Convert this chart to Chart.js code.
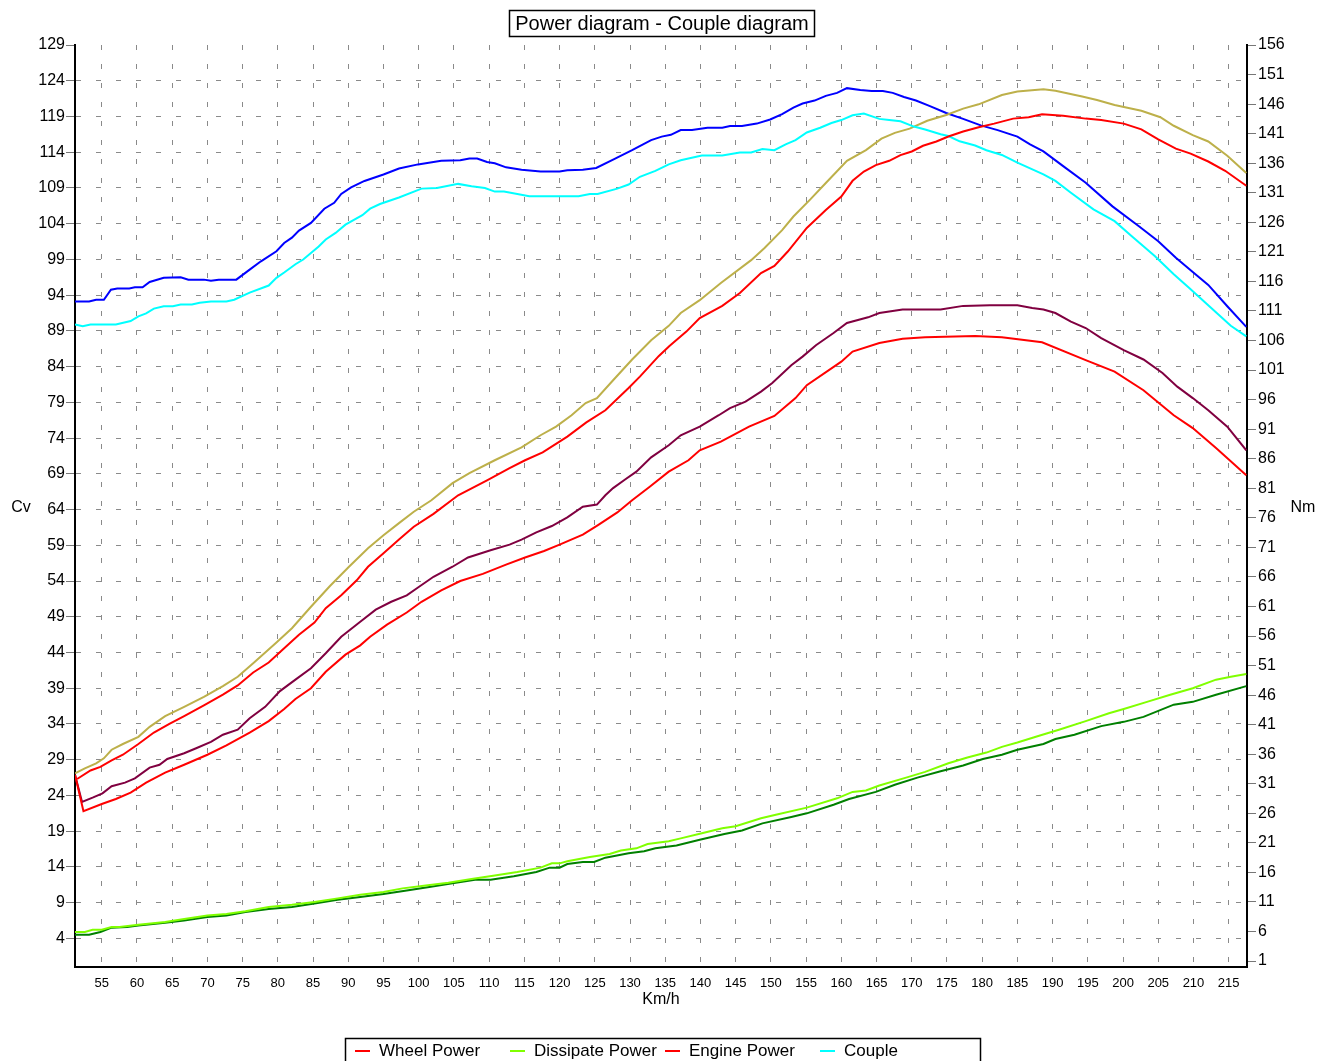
<!DOCTYPE html>
<html>
<head>
<meta charset="utf-8">
<title>Power diagram - Couple diagram</title>
<script src="https://cdn.jsdelivr.net/npm/chart.js@4/dist/chart.umd.min.js"></script>
<style>
    html, body { margin: 0; padding: 0; background: #fff; }
</style>
</head>
<body>
<canvas id="dynoChart" width="1318" height="1061"></canvas>
<script>
// Dyno run - power (Cv) and torque (Nm) against speed (Km/h)
const chartTitle = "Power diagram - Couple diagram";

// Tick labels
const speedTicks = [55, 60, 65, 70, 75, 80, 85, 90, 95, 100, 105, 110, 115, 120, 125, 130, 135, 140,
    145, 150, 155, 160, 165, 170, 175, 180, 185, 190, 195, 200, 205, 210, 215];
const cvTicks = [4, 9, 14, 19, 24, 29, 34, 39, 44, 49, 54, 59, 64, 69, 74, 79, 84, 89, 94, 99,
    104, 109, 114, 119, 124, 129];
const nmTicks = [1, 6, 11, 16, 21, 26, 31, 36, 41, 46, 51, 56, 61, 66, 71, 76, 81, 86, 91, 96,
    101, 106, 111, 116, 121, 126, 131, 136, 141, 146, 151, 156];

// Series: [km/h, value]
const wheelPower = [[51.2,26.9],[52.4,21.8],[55,22.8],[57,23.5],[59.1,24.4],[61.3,25.8],[64,27.2],
    [66.7,28.3],[70,29.7],[72.7,31.0],[76,32.8],[78.7,34.4],[80.9,36.1],[82.5,37.5],[84.7,39.0],
    [86.8,41.3],[89.6,43.7],[91.7,45.0],[93.1,46.2],[95.5,47.9],[98.3,49.6],[100.4,51.1],[103.2,52.7],
    [105.9,54.0],[109.1,55.0],[112.4,56.3],[115.1,57.3],[117.8,58.2],[120,59.1],[123.3,60.5],
    [125.4,61.8],[128.2,63.6],[130.3,65.3],[132.8,67.2],[135.5,69.3],[138.3,70.9],[139.9,72.3],
    [142.9,73.5],[146.9,75.6],[150.5,77.1],[153.5,79.6],[155.1,81.4],[160,84.7],[161.6,86.1],
    [165.4,87.3],[168.7,87.9],[171.9,88.1],[179,88.3],[182.8,88.1],[188.5,87.4],[194.7,84.9],
    [198.8,83.3],[202.9,80.7],[207.2,77.2],[209.9,75.4],[213.2,72.6],[217.5,68.8]];

const dissipatePower = [[51.2,4.9],[52.6,4.9],[53.7,5.2],[55,5.2],[56.4,5.6],[57.5,5.6],[60.2,5.9],
    [64,6.3],[66.7,6.7],[70,7.2],[72.7,7.4],[75.4,7.8],[78.7,8.4],[82,8.7],[85.2,9.1],[88.5,9.6],
    [91.7,10.1],[95,10.5],[97.7,11.0],[101,11.4],[104.2,11.8],[107.5,12.3],[110.8,12.8],[114,13.3],
    [117.3,13.9],[118.9,14.5],[120,14.5],[121.1,14.8],[124.3,15.4],[127.1,15.8],[128.7,16.3],
    [130.9,16.6],[132.5,17.2],[135.5,17.6],[137.2,18.0],[140.2,18.7],[143.1,19.4],[145,19.7],
    [148.6,20.8],[150.7,21.3],[155.1,22.3],[159.4,23.6],[161.6,24.5],[163.5,24.7],[165.4,25.4],
    [169.2,26.5],[171.9,27.3],[175.2,28.5],[177.9,29.3],[180.6,30.0],[182.8,30.8],[185,31.4],
    [188.2,32.4],[190.9,33.2],[194.7,34.4],[198,35.5],[200.1,36.1],[203.4,37.1],[206.7,38.1],
    [209.9,39.0],[213.2,40.2],[215.3,40.6],[217.5,41.0]];

const enginePower = [[51.5,26.3],[53.4,27.5],[54.8,28.0],[56.4,28.9],[58,29.7],[60.2,31.2],
    [62.4,32.8],[64.6,34.0],[66.7,35.1],[69.5,36.6],[72.2,38.1],[74.3,39.4],[76.5,41.2],[78.7,42.6],
    [80.9,44.6],[83,46.5],[85.2,48.2],[86.8,50.2],[89,52.0],[91.2,54.1],[92.8,56.0],[95,57.9],
    [97.2,59.8],[99.3,61.6],[102.1,63.4],[105.6,66.0],[109.7,68.1],[112.9,69.8],[115.1,70.9],
    [117.6,72.0],[121.1,74.2],[123.8,76.2],[126.5,77.9],[129.8,81.0],[131.4,82.6],[134.1,85.5],
    [135.6,86.9],[138,88.9],[139.9,90.8],[143.1,92.5],[145.6,94.3],[148.6,97.1],[150.5,98.1],
    [152.4,100.1],[155.1,103.4],[157.8,105.9],[160,107.8],[161.6,110.0],[163.2,111.3],[164.9,112.2],
    [166.8,112.8],[168.4,113.6],[170,114.1],[171.6,114.9],[173.5,115.5],[175.2,116.2],[177.3,116.9],
    [179.5,117.5],[181.7,118.0],[184.4,118.7],[186.6,118.9],[188.5,119.3],[191.5,119.1],[194.7,118.7],
    [196.9,118.5],[200.1,118.0],[202.6,117.2],[205,115.8],[207.5,114.5],[209.6,113.8],[212.1,112.7],
    [214.5,111.4],[217.5,109.3]];

const couple = [[51.2,108.7],[52.3,108.4],[53.4,108.7],[57,108.7],[59.1,109.3],[60.2,110.1],
    [61.3,110.6],[62.4,111.4],[63.8,111.8],[65.1,111.8],[66.2,112.1],[67.8,112.1],[68.9,112.4],
    [70.5,112.6],[72.7,112.6],[73.8,112.9],[76,114.1],[78.7,115.3],[79.8,116.6],[80.9,117.5],
    [82.5,118.9],[83.6,119.7],[85.8,121.9],[86.8,123.1],[88.2,124.2],[89.6,125.6],[92,127.2],
    [93.1,128.3],[94.5,129.1],[97.2,130.2],[100.4,131.7],[102.6,131.8],[105.6,132.5],[107.5,132.1],
    [109.4,131.8],[110.8,131.2],[112.1,131.2],[115.7,130.4],[118.9,130.4],[122.7,130.4],[124.3,130.8],
    [125.4,130.8],[128.2,131.7],[129.8,132.4],[131.4,133.7],[133.6,134.7],[135.5,135.8],[137.2,136.5],
    [138.3,136.8],[140.2,137.3],[143.1,137.3],[145.6,137.8],[147.2,137.8],[148.8,138.4],[150.5,138.2],
    [152.1,139.2],[153.5,139.9],[155.1,141.2],[157,142.0],[158.6,142.8],[160,143.3],[161.6,144.1],
    [163.2,144.4],[165.4,143.5],[166.8,143.3],[168.4,143.1],[170.3,142.2],[171.9,141.7],[174.1,140.9],
    [175.2,140.6],[176.8,139.7],[179,139.0],[180.6,138.2],[182.8,137.4],[185,136.1],[188.7,134.1],
    [190.4,133.0],[192.6,131.0],[195.8,128.2],[198.8,126.2],[201.2,123.7],[204.5,120.3],[207.2,117.2],
    [209.4,114.9],[212.6,111.4],[215.3,108.5],[217.5,106.7]];

// second run (not in the legend)
const wheelPower2 = [[51.2,26.9],[52.2,23.1],[53.7,23.7],[55.1,24.3],[56.4,25.3],[58.3,25.8],
    [59.7,26.4],[61.8,27.9],[63.2,28.3],[64.3,29.1],[66.7,29.9],[68.4,30.6],[70.5,31.5],[72.2,32.5],
    [74.3,33.2],[76,34.8],[78.2,36.4],[80.3,38.6],[82.5,40.2],[84.7,41.8],[86.8,43.9],[89,46.2],
    [91.7,48.3],[93.9,50.0],[96.1,51.1],[98.3,52.0],[99.9,53.1],[102.1,54.6],[104.8,56.0],[107,57.3],
    [110.2,58.3],[112.9,59.1],[114.6,59.8],[116.7,60.8],[118.9,61.7],[121.1,62.9],[123.3,64.4],
    [125.3,64.7],[126.5,66.0],[127.6,67.0],[129.3,68.2],[130.9,69.3],[133,71.3],[135.5,73.0],
    [137.2,74.4],[139.9,75.6],[142.6,77.2],[144.2,78.2],[146.4,79.1],[148.6,80.5],[150.2,81.7],
    [152.9,84.2],[154.5,85.4],[156.4,87.0],[158.9,88.7],[160.8,90.1],[163.8,90.9],[165.4,91.5],
    [168.7,92.0],[174.1,92.0],[177.3,92.5],[181.1,92.6],[185,92.6],[187.1,92.2],[188.7,92.0],
    [190.4,91.5],[192.6,90.3],[194.7,89.4],[196.9,88.0],[200.1,86.3],[202.9,85.0],[205.6,83.1],
    [207.7,81.2],[209.9,79.6],[212.1,77.9],[214.8,75.6],[217.5,72.3]];

const dissipatePower2 = [[51.2,4.5],[53.2,4.5],[54.8,4.9],[56.4,5.5],[58.6,5.6],[60.2,5.8],[64,6.2],
    [66.7,6.5],[70,7.0],[72.7,7.2],[75.4,7.7],[78.7,8.1],[82,8.4],[85.2,8.9],[88.5,9.4],[91.7,9.8],
    [95,10.2],[98.3,10.7],[101.5,11.2],[104.8,11.7],[108,12.2],[110.2,12.2],[113.5,12.7],[116.7,13.3],
    [118.6,13.9],[120,13.9],[121.1,14.4],[123.3,14.7],[124.9,14.7],[126.5,15.3],[129.8,15.9],
    [132,16.2],[133.6,16.6],[136.6,17.0],[139.9,17.8],[143.4,18.6],[145.9,19.1],[148.8,20.1],
    [152.9,21.0],[155.1,21.5],[158.9,22.7],[161.1,23.5],[164.9,24.5],[167.6,25.5],[170.8,26.5],
    [174.1,27.4],[177.3,28.2],[180.1,29.1],[182.8,29.7],[185,30.4],[188.7,31.2],[190.4,31.9],
    [193.1,32.5],[196.9,33.7],[200.1,34.3],[202.9,35.0],[207.2,36.7],[209.9,37.1],[213.2,38.1],
    [217.5,39.3]];

const enginePower2 = [[51.2,27.1],[52.6,27.8],[54.2,28.5],[55.3,29.2],[56.4,30.4],[58,31.2],
    [60.2,32.2],[61.8,33.6],[64,35.1],[66.7,36.4],[69.5,37.8],[72.2,39.3],[74.3,40.6],[76.5,42.5],
    [79.8,45.4],[82,47.4],[84.7,50.4],[87.4,53.3],[90.1,56.0],[92.8,58.6],[95,60.4],[97.2,62.1],
    [99.3,63.7],[101.8,65.3],[104.8,67.7],[107.2,69.1],[110.8,70.9],[114.6,72.7],[117.3,74.4],
    [119.5,75.6],[121.7,77.2],[123.7,78.9],[125.3,79.6],[127.6,82.1],[130.3,85.0],[133,87.7],
    [135.5,89.7],[137.2,91.5],[139.9,93.3],[142.9,95.7],[147.2,98.9],[149.1,100.6],[151.6,103.1],
    [153.2,105.0],[155.6,107.4],[157.8,109.7],[160.8,112.8],[163.5,114.3],[165.7,115.9],[167.6,116.7],
    [169.7,117.3],[172.2,118.4],[174.9,119.2],[177.3,120.1],[179.5,120.7],[182.8,122.0],[185,122.5],
    [188.7,122.8],[190.4,122.6],[194.2,121.8],[196.3,121.3],[198.8,120.6],[202.6,119.8],[205.3,118.9],
    [207.2,117.7],[209.9,116.4],[212.1,115.5],[214.8,113.5],[217.5,111.1]];

const couple2 = [[51.2,112.6],[53.2,112.6],[54.2,112.9],[55.3,112.9],[56.3,114.6],[57.2,114.8],
    [58.9,114.8],[59.7,115.0],[60.8,115.0],[61.8,115.9],[63.8,116.6],[66.2,116.7],[67.3,116.3],
    [69.5,116.3],[70.5,116.1],[71.6,116.3],[74.1,116.3],[76,118.0],[77.6,119.4],[79.8,121.1],
    [80.9,122.5],[82,123.4],[83,124.6],[84.7,125.9],[86.6,128.3],[88,129.3],[89,130.8],[90.4,131.9],
    [92.3,133.0],[95,134.1],[97.2,135.1],[99.9,135.8],[103.2,136.4],[105.9,136.5],[107.2,136.8],
    [108.3,136.8],[109.7,136.2],[110.8,136.0],[112.4,135.3],[114.6,134.9],[117.3,134.6],[120,134.6],
    [121.1,134.8],[123.3,134.9],[125.2,135.2],[127.6,136.6],[130.3,138.2],[133,139.9],[134.5,140.5],
    [135.8,140.8],[137.2,141.6],[138.8,141.6],[141,142.0],[143.1,142.0],[144.2,142.3],[145.9,142.3],
    [148,142.7],[149.9,143.4],[151.6,144.3],[153.2,145.4],[154.5,146.1],[156.2,146.6],[157.8,147.4],
    [159.4,147.9],[160.8,148.7],[162.7,148.4],[164.3,148.2],[165.9,148.2],[167.3,147.9],[168.9,147.2],
    [170.6,146.6],[172.5,145.7],[174.9,144.5],[177.3,143.5],[179.8,142.4],[182.2,141.6],[185,140.5],
    [186.8,139.2],[188.7,138.0],[191.5,135.5],[194.7,132.7],[198.5,128.7],[202.3,125.3],[205,122.8],
    [207.5,120.0],[209.9,117.6],[212.1,115.4],[214.8,111.8],[217.5,108.3]];

const FONT = "'Liberation Sans', Arial, sans-serif";
const GRID = "#8a8a8a";

function toPoints(pairs) {
    return pairs.map(p => ({ x: p[0], y: p[1] }));
}

function line(label, pairs, color, axis, inLegend) {
    return {
        label: label,
        data: toPoints(pairs),
        borderColor: color,
        backgroundColor: color,
        borderWidth: 2,
        pointRadius: 0,
        tension: 0,
        fill: false,
        yAxisID: axis,
        inLegend: inLegend
    };
}

// Title box, horizontal axis names and the boxed legend
const decorPlugin = {
    id: "decor",
    afterDraw(chart) {
        const ctx = chart.ctx;
        ctx.save();
        ctx.fillStyle = "#000";
        ctx.textBaseline = "middle";

        ctx.font = "20px " + FONT;
        ctx.textAlign = "center";
        const tw = ctx.measureText(chartTitle).width;
        ctx.fillText(chartTitle, 662, 24);
        ctx.strokeStyle = "#000";
        ctx.lineWidth = 1.5;
        ctx.strokeRect(Math.round(662 - tw / 2 - 6) + 0.5, 10.5, Math.round(tw + 12), 26);

        ctx.font = "16px " + FONT;
        ctx.fillText("Cv", 21, 508);
        ctx.fillText("Nm", 1303, 508);

        // legend
        ctx.lineWidth = 1.5;
        ctx.strokeRect(345.5, 1038.5, 635, 40);
        ctx.font = "17px " + FONT;
        ctx.textAlign = "left";
        const items = chart.data.datasets.filter(d => d.inLegend);
        items.forEach((d, i) => {
            const x = 355 + i * 155;
            ctx.strokeStyle = d.borderColor;
            ctx.lineWidth = 2;
            ctx.beginPath();
            ctx.moveTo(x, 1051);
            ctx.lineTo(x + 15, 1051);
            ctx.stroke();
            ctx.fillStyle = "#000";
            ctx.fillText(d.label, x + 24, 1051);
        });
        ctx.restore();
    }
};

const ctx = document.getElementById("dynoChart").getContext("2d");

new Chart(ctx, {
    type: "line",
    data: {
        datasets: [
            line("Wheel Power", wheelPower, "#ff0000", "yCv", true),
            line("Dissipate Power", dissipatePower, "#80ff00", "yCv", true),
            line("Engine Power", enginePower, "#ff0000", "yCv", true),
            line("Couple", couple, "#00ffff", "yNm", true),
            line("Wheel Power 2", wheelPower2, "#800040", "yCv", false),
            line("Dissipate Power 2", dissipatePower2, "#008000", "yCv", false),
            line("Engine Power 2", enginePower2, "#bdb04a", "yCv", false),
            line("Couple 2", couple2, "#0000ff", "yNm", false)
        ]
    },
    plugins: [decorPlugin],
    options: {
        responsive: false,
        animation: false,
        layout: { padding: { top: 45, left: 0, right: 0, bottom: 0 } },
        plugins: {
            legend: { display: false },
            title: { display: false },
            tooltip: { enabled: false }
        },
        scales: {
            x: {
                type: "linear",
                min: 51.2,
                max: 217.6,
                afterBuildTicks: s => { s.ticks = speedTicks.map(v => ({ value: v })); },
                afterFit: s => { s.height = 94; },
                grid: { color: GRID, lineWidth: 1, drawTicks: false },
                border: { display: true, color: "#000", width: 2, dash: [5, 14] },
                ticks: { color: "#000", font: { family: FONT, size: 13 }, padding: 9, maxRotation: 0, autoSkip: false },
                title: { display: true, text: "Km/h", color: "#000", font: { family: FONT, size: 16 }, padding: { top: 0, bottom: 52 } }
            },
            yCv: {
                type: "linear",
                position: "left",
                min: 0,
                max: 129,
                afterBuildTicks: s => { s.ticks = cvTicks.map(v => ({ value: v })); },
                afterFit: s => { s.width = 75; },
                grid: {
                    color: c => (c.tick && c.tick.value === 129) ? "rgba(0,0,0,0)" : GRID,
                    lineWidth: 1,
                    tickColor: "#777",
                    tickLength: 9,
                    tickBorderDash: []
                },
                border: { display: true, color: "#000", width: 2, dash: [5, 15] },
                ticks: { color: "#000", font: { family: FONT, size: 16 }, padding: 1, autoSkip: false }
            },
            yNm: {
                type: "linear",
                position: "right",
                min: 0,
                max: 156,
                afterBuildTicks: s => { s.ticks = nmTicks.map(v => ({ value: v })); },
                afterFit: s => { s.width = 71; },
                grid: { drawOnChartArea: false, tickColor: "#777", tickLength: 9 },
                border: { display: true, color: "#000", width: 2 },
                ticks: { color: "#000", font: { family: FONT, size: 16 }, padding: 2, autoSkip: false }
            }
        }
    }
});
</script>
</body>
</html>
